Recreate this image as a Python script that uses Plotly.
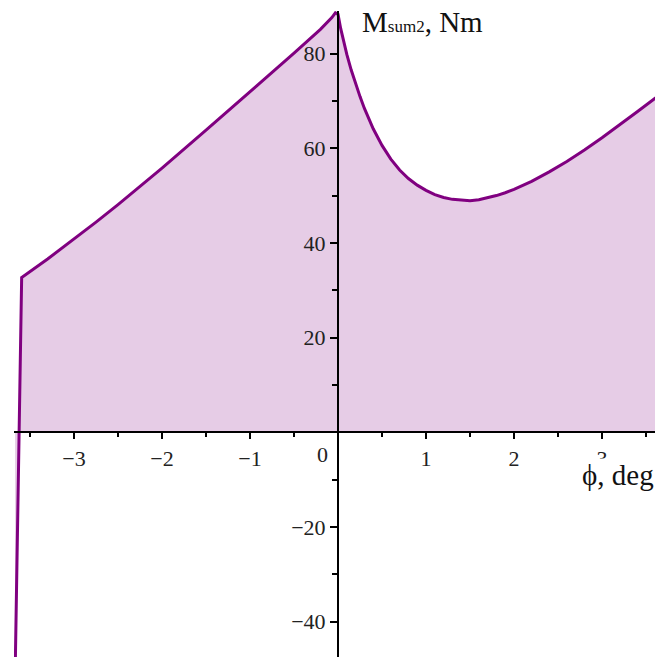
import plotly.graph_objects as go

# Summed moment M_sum2 (Nm) versus rotation angle phi (deg)
phi_deg = [-3.67, -3.595, -3.3, -3.0, -2.75, -2.5, -2.25, -2.0, -1.5, -1.0, -0.5, -0.2,
           -0.07, -0.03, 0.0, 0.03, 0.06, 0.1, 0.15, 0.2, 0.25, 0.3, 0.4, 0.5, 0.6, 0.7,
           0.8, 0.9, 1.0, 1.1, 1.2, 1.3, 1.4, 1.5, 1.6, 1.7, 1.8, 1.9, 2.0, 2.2, 2.4, 2.6,
           2.8, 3.0, 3.2, 3.4, 3.6, 3.7]
m_sum2 = [-52.0, 32.7, 36.6, 40.8, 44.4, 48.1, 51.9, 55.8, 63.8, 71.9, 80.1, 85.1,
          87.6, 88.6, 88.3, 85.3, 82.8, 79.8, 76.5, 73.6, 70.9, 68.4, 64.1, 60.6, 57.7, 55.4,
          53.6, 52.2, 51.1, 50.2, 49.6, 49.2, 49.0, 48.9, 49.1, 49.5, 50.0, 50.6, 51.3, 53.0,
          55.0, 57.2, 59.6, 62.2, 64.9, 67.7, 70.5, 71.9]

x_major = [-3, -2, -1, 1, 2, 3]
x_minor = [-3.5, -2.5, -1.5, -0.5, 0.5, 1.5, 2.5, 3.5]
y_major = [-40, -20, 20, 40, 60, 80]
y_minor = [-30, -10, 10, 30, 50, 70]

x_range = [-3.682, 3.602]
y_range = [-47.46, 88.98]

LINE = "#800080"
FILL = "rgba(128,0,128,0.2)"
SERIF = "Liberation Serif, Times New Roman, serif"

fig = go.Figure()
fig.add_trace(go.Scatter(
    x=phi_deg, y=m_sum2, mode="lines",
    line=dict(color=LINE, width=3),
    fill="tozeroy", fillcolor=FILL,
    hoverinfo="skip", showlegend=False,
))

# axes cross at the origin
x_pos = (0 - y_range[0]) / (y_range[1] - y_range[0])
y_pos = (0 - x_range[0]) / (x_range[1] - x_range[0])

fig.update_xaxes(
    range=x_range, anchor="free", position=x_pos,
    showline=True, linecolor="black", linewidth=2,
    showgrid=False, zeroline=False,
    tickmode="array", tickvals=x_major,
    ticks="outside", ticklen=6, tickwidth=2, tickcolor="black",
    minor=dict(tickmode="array", tickvals=x_minor, ticks="outside",
               ticklen=4, tickwidth=2, tickcolor="black"),
    tickfont=dict(family=SERIF, size=22, color="#222"),
)
fig.update_yaxes(
    range=y_range, anchor="free", position=y_pos,
    showline=True, linecolor="black", linewidth=2,
    showgrid=False, zeroline=False,
    tickmode="array", tickvals=y_major,
    ticks="outside", ticklen=7, tickwidth=2, tickcolor="black",
    minor=dict(tickmode="array", tickvals=y_minor, ticks="outside",
               ticklen=5, tickwidth=2, tickcolor="black"),
    tickfont=dict(family=SERIF, size=22, color="#222"),
)

# origin label and axis titles
fig.add_annotation(x=0, y=0, xref="x", yref="y", text="0", showarrow=False,
                   xanchor="center", yanchor="middle", xshift=-16, yshift=-22,
                   font=dict(family=SERIF, size=22, color="#222"))
fig.add_annotation(x=0, y=y_range[1], xref="x", yref="y",
                   text="M<span style='font-size:17px'>sum2</span>, Nm",
                   showarrow=False, xanchor="left", yanchor="middle",
                   xshift=22, yshift=-11,
                   font=dict(family=SERIF, size=29, color="#111"))
fig.add_annotation(x=3, y=0, xref="x", yref="y", text="\u03d5, deg",
                   showarrow=False, xanchor="left", yanchor="middle",
                   xshift=-21, yshift=-43, bgcolor="white", borderpad=0,
                   font=dict(family=SERIF, size=29, color="#111"))

fig.update_layout(
    width=655, height=657,
    margin=dict(l=14, r=0, t=11, b=0),
    paper_bgcolor="white", plot_bgcolor="white",
)

fig.write_html("out.html")
